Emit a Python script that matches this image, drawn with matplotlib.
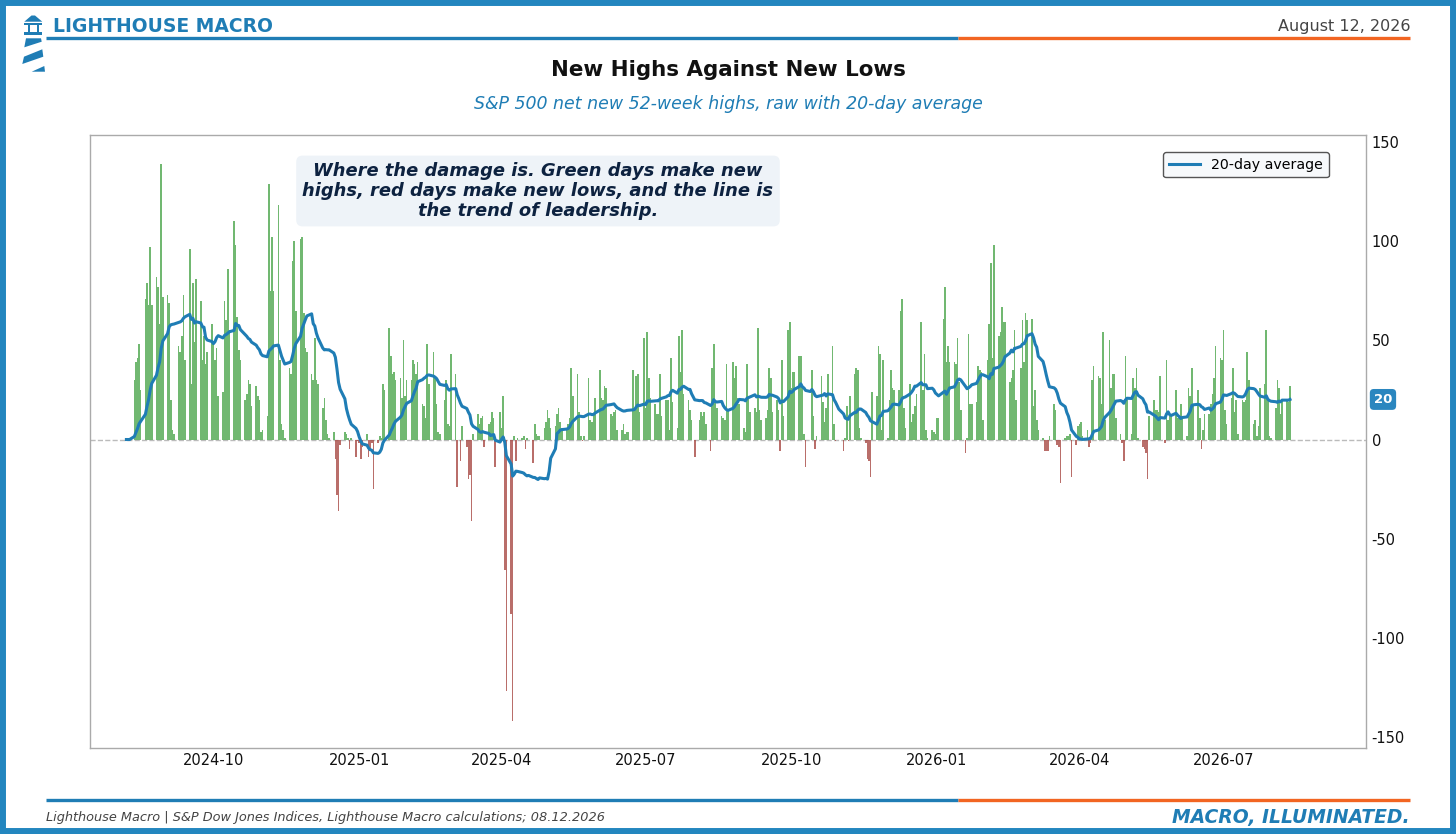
import matplotlib
matplotlib.use("Agg")
import matplotlib.pyplot as plt
import matplotlib.dates as mdates
import matplotlib.patches as mpatches
from matplotlib.lines import Line2D
import pandas as pd
import numpy as np

plt.rcParams['font.family'] = ['DejaVu Sans']
plt.rcParams['axes.unicode_minus'] = False

# ---------------- data (net new 52-week highs, one value per business day) -------------
start_date = "2024-08-07"
lead_in = [0, 0, 0]
net_2024 = [30, 39, 41, 48, 25, 71, 79, 68, 97, 68, 82, 77, 58, 139, 72, 73, 69, 20, 5, 3,
            47, 44, 52, 73, 40, 96, 28, 79, 49, 81, 70, 40, 52, 38, 44, 58, 48, 40, 46, 22,
            24, 70, 60, 86, 55, 110, 98, 62, 45, 40, 20, 23, 30, 28, 17, 27, 22, 20, 4, 5,
            12, 129, 75, 102, 75, 118, 40, 8, 5, 1, 36, 33, 90, 100, 65, 101, 102, 64, 46, 44,
            33, 30, 51, 30, 28, 16, 21, 10, 3, 1, 4, -10, -28, -36, -3, 4, 3, 1, -5, 1]
net_2025a = [-9, -1, -2, -10, -4, 3, -9, -6, -2, -25, -2, 2, 1, 28, 25, 56, 42, 33, 34, 30,
             31, 21, 50, 22, 30, 30, 40, 38, 33, 39, 18, 17, 11, 48, 28, 44, 31, 18, 4, 3,
             20, 30, 8, 7, 43, 33, -24, 0, -11, 7, -4, -20, -18, -41, 3, 13, 8, 11, 12, -4,
             8, 9, 14, 11, -14, 14, 6, 22, -66, -127, -88, -142, 2, -11, 1, 1, 2, -5, 1, 0,
             -12, 8, 3, 2, 2, 6, 9, 15, 11, 6, 7, 13, 16, 9, 6, 6, 8, 11, 36, 22,
             33, 14, 2, -1, 2, 31, 10, 9, 12, 21, 35, 21, 20, 27, 26, 13, 12, 14, 15, 5,
             5, 8, 3, 4, 4, 35, 15, 32, 33, 14]
net_2025b = [51, 16, 54, 31, 21, 18, 13, 13, 33, 12, 20, 20, 5, 41, 19, 6, 52, 34, 55, 23,
             20, 15, 10, 0, -9, 10, 14, 12, 14, 8, -6, 36, 48, 20, 16, 12, 11, 10, 38, 15,
             39, 31, 37, 21, 18, 6, 4, 38, 21, 14, 16, 14, 56, 15, 10, 11, 15, 36, 31, 14,
             20, 15, -6, 40, 12, 55, 59, 26, 34, 34, 42, 42, 26, 3, -14, 0, 35, 12, -5, 2,
             32, 19, 9, 16, 33, 47, 8, -1, 0, 0, -6, 1, 17, -1, 22, 33, 36, 35, 6, 1,
             -2, -10, -11, -19, 24, 22, 47, 43, 5, 40, 1, 20, 35, 26, 25, 25, 65, 71, 16, 6,
             28, 9, 13, 17, 23, 59, 25, 43, 5, 1]
net_2026 = [5, 4, 3, 11, 11, 61, 77, 39, 47, 39, 39, 38, 51, 29, 15, -7, 1, 53, 18, 18,
            19, 37, 35, 34, 10, 40, 58, 89, 41, 98, 52, 54, 67, 59, 59, 29, 31, 35, 55, 20,
            36, 60, 39, 64, 60, 61, 17, 25, 10, 5, 1, -6, -6, -6, 2, 18, 15, -3, -4, -22,
            1, 2, 2, 3, -19, -3, 7, 8, 9, 2, 5, -4, -2, 30, 37, 32, 31, 18, 54, 10,
            50, 26, 33, 33, 11, 3, -2, -11, 42, 20, 3, 31, 26, 36, 1, -4, -5, -7, -20, 12,
            20, 15, 15, 14, 32, -2, 40, 10, 13, 13, 25, 11, 11, 18, 11, 2, 26, 22, 36, 18,
            25, 11, -5, 5, 13, 13, 18, 23, 31, 47, 41, 40, 55, 15, 8, 21, 36, 14, 20, 3,
            20, 19, 20, 44, 30, 8, 10, 2, 7, 26, 28, 55, 20, 2, 1, 16, 30, 26, 13, 20,
            20, 19, 27]

x_ticks_months = [1, 4, 7, 10]
y_ticks = [150, 100, 50, 0, -50, -100, -150]
window = 20

values = lead_in + net_2024 + net_2025a + net_2025b + net_2026
dates = pd.bdate_range(start_date, periods=len(values))
s = pd.Series(values, index=dates, dtype=float)
avg = s.rolling(window, min_periods=1).sum() / window

# ---------------- figure ----------------
W, H = 1456, 834
fig = plt.figure(figsize=(W / 100, H / 100), dpi=100)
fig.patch.set_facecolor('white')

def P(x, y):
    return (x / W, 1 - y / H)

BLUE = '#1f7db5'
ORANGE = '#f26522'
FRAME = '#2386bf'

# outer frame
fig.add_artist(mpatches.Rectangle((0, 0), 1, 1, transform=fig.transFigure,
                                  fill=False, edgecolor=FRAME, lw=8.6, zorder=10))

# header / footer rules
for yy in (38, 800):
    fig.add_artist(Line2D([P(46, 0)[0], P(958, 0)[0]], [P(0, yy)[1]] * 2,
                          transform=fig.transFigure, color=BLUE, lw=2.4, solid_capstyle='butt'))
    fig.add_artist(Line2D([P(958, 0)[0], P(1410, 0)[0]], [P(0, yy)[1]] * 2,
                          transform=fig.transFigure, color=ORANGE, lw=2.4, solid_capstyle='butt'))

# lighthouse logo
logo_polys = [
    [(24.3, 21.7), (31.5, 15.5), (35, 15.5), (42.3, 21.7)],
    [(24.3, 22.5), (42.3, 22.5), (42.3, 24.5), (24.3, 24.5)],
    [(27.7, 24.5), (30, 24.5), (30, 31.7), (27.7, 31.7)],
    [(36.7, 24.5), (39, 24.5), (39, 31.7), (36.7, 31.7)],
    [(24.3, 31.7), (42.3, 31.7), (42.3, 35), (24.3, 35)],
    [(26, 38.3), (41, 38.3), (41.7, 41.7), (24.3, 47.3)],
    [(24, 56.7), (42.3, 49.3), (43.3, 56.7), (22.3, 64)],
    [(31.7, 71.7), (45, 71.7), (44.3, 66)],
]
for poly in logo_polys:
    fig.add_artist(mpatches.Polygon([P(x, y) for x, y in poly], closed=True,
                                    transform=fig.transFigure, facecolor=BLUE, edgecolor='none'))

fig.text(*P(53, 27), "LIGHTHOUSE MACRO", color=BLUE, fontsize=13.5, fontweight='bold',
         ha='left', va='center')
fig.text(*P(1410, 26), "August 12, 2026", color='#444444', fontsize=11.5,
         ha='right', va='center')
fig.text(*P(728, 70), "New Highs Against New Lows", color='#111111', fontsize=15.4,
         fontweight='bold', ha='center', va='center')
fig.text(*P(728, 104), "S&P 500 net new 52-week highs, raw with 20-day average",
         color=BLUE, fontsize=12.5, style='italic', ha='center', va='center')
fig.text(*P(46, 818), "Lighthouse Macro | S&P Dow Jones Indices, Lighthouse Macro calculations; 08.12.2026",
         color='#444444', fontsize=9.3, style='italic', ha='left', va='center')
fig.text(*P(1410, 818), "MACRO, ILLUMINATED.", color=BLUE, fontsize=13.5,
         fontweight='bold', style='italic', ha='right', va='center')

# ---------------- axes ----------------
ax = fig.add_axes([90 / W, 1 - 748 / H, 1276 / W, 613 / H])
colors = ['#4ea64e' if v >= 0 else '#a84a45' for v in s.values]
ax.bar(s.index, s.values, width=1.0, color=colors, alpha=0.8, linewidth=0, zorder=2)
ax.axhline(0, color='#bbbbbb', ls='--', lw=1, zorder=1)
ax.plot(avg.index, avg.values, color=BLUE, lw=2.2, label='20-day average', zorder=3)

ax.set_xlim(pd.Timestamp('2024-07-15'), pd.Timestamp('2026-09-29'))
ax.set_ylim(-155.5, 153.5)
ax.set_yticks(y_ticks)
ax.yaxis.tick_right()
ax.xaxis.set_major_locator(mdates.MonthLocator(bymonth=x_ticks_months))
ax.xaxis.set_major_formatter(mdates.DateFormatter('%Y-%m'))
ax.tick_params(axis='both', length=0, labelsize=10.5, colors='#111111')
ax.tick_params(axis='y', pad=4)
for sp in ax.spines.values():
    sp.set_color('#aaaaaa')
    sp.set_linewidth(1)
ax.grid(False)

leg = ax.legend(loc='upper right', bbox_to_anchor=(0.971, 0.972), borderaxespad=0,
                fontsize=10.2, frameon=True, fancybox=True, handlelength=2.2)
leg.get_frame().set_edgecolor('#555555')
leg.get_frame().set_facecolor('#f7f9fb')
leg.get_frame().set_alpha(1)

# annotation box
ax.text((538 - 90) / 1276, 1 - (191 - 135) / 613,
        "Where the damage is. Green days make new\nhighs, red days make new lows, and the line is\nthe trend of leadership.",
        transform=ax.transAxes, ha='center', va='center', fontsize=12.9,
        fontweight='bold', style='italic', color='#0d2240', linespacing=1.15,
        bbox=dict(boxstyle='round,pad=0.35', facecolor='#eef3f8', edgecolor='none'), zorder=5)

# latest value badge
last_val = avg.iloc[-1]
ax.text(1.0133, last_val, f"{last_val:.0f}", transform=ax.get_yaxis_transform(),
        ha='center', va='center', fontsize=9.5, fontweight='bold', color='white',
        bbox=dict(boxstyle='round,pad=0.3', facecolor='#2a86bf', edgecolor='none'),
        clip_on=False, zorder=6)

fig.savefig('out.png', dpi=100)
